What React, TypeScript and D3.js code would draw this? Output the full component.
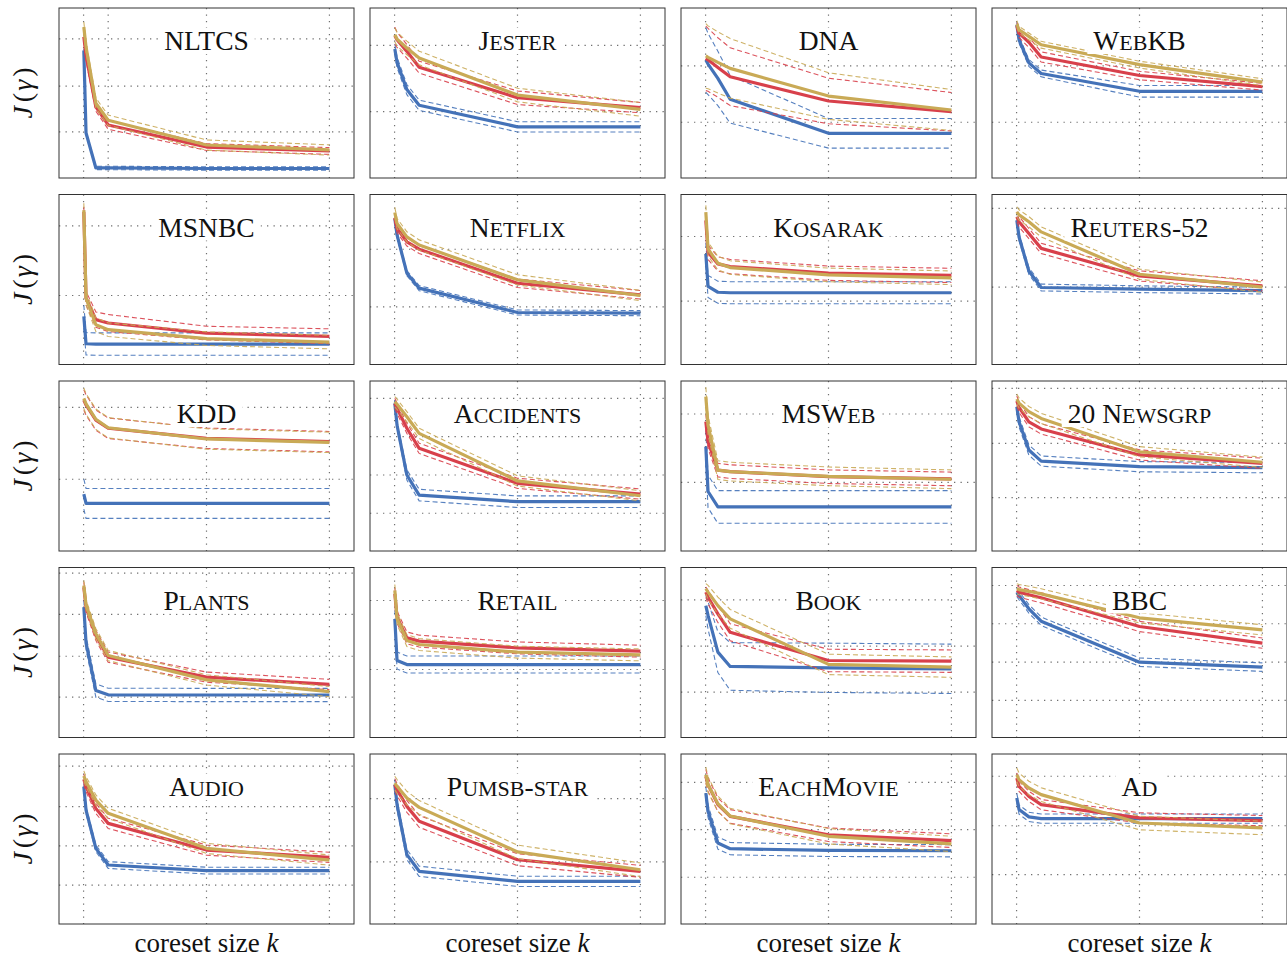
import React, { useEffect, useRef } from 'react';
import * as d3 from 'd3';

// coreset sizes at which J(gamma) was measured
const K = [1, 10, 50, 100, 500, 1000];
const X_TICKS = [0, 500, 1000];
const NLTCS_X_TICKS = [0, 100, 500, 1000];

const DATASETS = [
  'NLTCS', 'Jester', 'DNA', 'WebKB',
  'MSNBC', 'Netflix', 'Kosarak', 'Reuters-52',
  'KDD', 'Accidents', 'MSWeb', '20 Newsgrp',
  'Plants', 'Retail', 'Book', 'BBC',
  'Audio', 'Pumsb-star', 'EachMovie', 'Ad',
];

// horizontal grid positions (relative J units, 0..100 per panel)
const Y_GRID = [
  [81.8, 54.1, 27.1], [78, 39], [66, 32.8], [66, 32.8],
  [81.6, 40.6], [67.8, 33.9], [75.3, 37.3], [91.8, 45.5],
  [84.5, 42.2], [89.8, 67.3, 44.7, 22.2], [80.6, 40.4], [95.7, 63.3, 31.4],
  [96.7, 72.4, 47.8, 23.7], [80.6, 40], [81, 53.7, 26.7], [89.4, 66.9, 44.3, 21.8],
  [92.9, 69, 45.9, 22.9], [73.7, 36.5], [83.3, 55.5, 27.5], [86.9, 57.8, 29],
];

const BLUE = [
  [75, 26.5, 5.9, 5.9, 5.6, 5.6],
  [75.9, 68, 52, 42.8, 30.1, 30.1],
  [69.4, 67, 58.6, 46.3, 26.3, 26.3],
  [90.1, 81.3, 67.7, 61.5, 51, 51],
  [28.3, 12.2, 12, 12, 12, 12],
  [85.9, 76.2, 53.7, 44.9, 30.6, 30.2],
  [65.1, 45.9, 42.5, 42.2, 42.2, 42.2],
  [84.9, 75, 55, 45.3, 44.3, 43.5],
  [33.5, 28, 28, 28, 28, 28],
  [86.9, 74, 44.7, 32.9, 29, 29],
  [61.4, 35, 25.9, 25.9, 25.9, 25.9],
  [84.9, 76, 59.4, 52.9, 49.6, 49],
  [76.7, 55.7, 27.6, 25.1, 25, 25],
  [69.8, 45.3, 42.9, 42.9, 42.9, 42.9],
  [77.6, 71.8, 50.2, 41.8, 41, 40.4],
  [85.5, 83.5, 75.7, 68.4, 44.3, 41.4],
  [80.8, 67, 44.5, 34.7, 31.4, 31.4],
  [82, 70.2, 40.8, 31, 25.1, 25.1],
  [77, 66.3, 47.6, 44.3, 43.3, 43.1],
  [74.1, 67.3, 63, 62, 62, 62],
];
const BLUE_SD: (number | number[])[] = [
  1, 3, [19, 18, 16, 14, 8.7, 8.7], [1.5, 2, 2, 2, 3.4, 3.4],
  6.6, 1.5, 6.5, 2,
  8.8, [2, 2, 3, 3.4, 3.4, 3.4], 9.6, 3,
  3.9, 5, [6, 8, 12, 14, 14.5, 14.5], 2.5,
  2, 3, 3.6, 2.7,
];

const RED = [
  [83, 72, 41.8, 31.2, 18.2, 15.9],
  [83.7, 81.3, 74.5, 65.2, 47.2, 41.4],
  [70.4, 69.5, 65, 59.6, 45.3, 39],
  [89.5, 85.2, 79.8, 71.2, 60.3, 53.7],
  [89.8, 39, 26.4, 24.4, 18.5, 16.6],
  [86.3, 80, 72.2, 67.8, 47.8, 41],
  [84.7, 66, 59.2, 57.6, 53.7, 52.4],
  [86.9, 84, 77, 68.3, 52.1, 46.3],
  [88.8, 85.9, 77, 72.2, 66.3, 64.3],
  [86.9, 83.9, 72.2, 60.4, 39.8, 33.5],
  [76.1, 64.3, 47.6, 46.7, 43.7, 42.4],
  [88.2, 84.5, 76, 71.8, 56.5, 51.6],
  [88.4, 76.7, 60, 47.3, 35.5, 31.2],
  [84.5, 70.8, 58.6, 56.7, 52.7, 50.8],
  [85.5, 82.5, 72.7, 61.9, 45.3, 44.9],
  [86.5, 85.5, 84, 82.2, 65.3, 55.5],
  [85.1, 80.8, 68, 59.2, 43.5, 39.2],
  [82, 79, 69.2, 60.4, 37.8, 31],
  [86.9, 82, 70.2, 63.3, 52.5, 49],
  [85.9, 81, 75.1, 70.2, 62.4, 60.8],
];
const RED_SD: (number | number[])[] = [
  [2, 3, 2.5, 2.5, 2, 2], [5, 4.5, 4, 3.5, 4, 3], [19, 18.5, 17.5, 17, 13.4, 11.3], [2, 2.5, 3, 3, 2.5, 2],
  [3, 4, 4.5, 5, 4, 4.4], 2.5, 4.2, 3,
  6, 3, 4, 3,
  3, 3.5, [3, 4, 5, 5, 6.6, 6.6], 3,
  3, 3.5, 4, 3,
];

const GOLD = [
  [88.8, 77, 44, 34, 19.4, 16.5],
  [84.2, 81.7, 76.5, 70.6, 48.8, 40.4],
  [71.8, 71, 68, 64.5, 48.2, 40],
  [90.5, 87.2, 83.3, 78.4, 66.7, 56.4],
  [90.8, 39, 23.4, 20.5, 15.2, 13.2],
  [89.4, 82.9, 75.1, 70.3, 49.8, 40.6],
  [89.6, 68, 59.6, 57, 52.7, 51],
  [89.8, 88, 84, 78, 53.1, 45.5],
  [89.8, 86.5, 77.5, 72.5, 65.9, 63.9],
  [87.8, 86.3, 79, 69.2, 41.2, 32.5],
  [90.8, 74.1, 47.6, 46.7, 43.9, 42.2],
  [89.4, 87, 82, 78, 58.4, 52.2],
  [89.4, 78, 61, 48.2, 33.9, 27],
  [86.5, 70, 57, 54.7, 50.2, 48.6],
  [87.5, 85.5, 77.6, 69.8, 43, 41.4],
  [87.5, 87, 86, 84.5, 70.4, 63.3],
  [87.1, 83.7, 72.9, 65.1, 44.5, 37.6],
  [82.9, 81, 74.1, 68.6, 42.4, 31.9],
  [87.8, 82, 70.8, 63.5, 51.6, 47.1],
  [87.8, 84.8, 80, 76.1, 59.4, 56.5],
];
const GOLD_SD: (number | number[])[] = [
  3, 4, [19, 18.5, 18, 17.5, 13.7, 12], 2,
  4, 3, 4, 3,
  6, 3, 5.5, 3,
  3, 3.5, [3, 4, 5, 5.5, 6, 6], 3,
  3, 4, 4.5, 4,
];

const SERIES = [
  { mean: BLUE, sd: BLUE_SD, color: '#4472b8' },
  { mean: RED, sd: RED_SD, color: '#d8404b' },
  { mean: GOLD, sd: GOLD_SD, color: '#c9aa56' },
];

const W = 1287;
const H = 958;
const PANEL_W = 295;
const PANEL_H = 170;
const FONT = '"Liberation Serif", "Times New Roman", "DejaVu Serif", serif';
const TITLE_SIZE = 27.5;

// split a name into runs of capitals and (small-cap) lowercase
function smallCapRuns(name: string) {
  const runs: { text: string; small: boolean }[] = [];
  for (const ch of name) {
    const small = ch !== ch.toUpperCase();
    const last = runs[runs.length - 1];
    if (last && last.small === small) last.text += ch;
    else runs.push({ text: ch, small });
  }
  return runs;
}

export default function App() {
  const ref = useRef<SVGSVGElement | null>(null);

  useEffect(() => {
    const svg = d3.select(ref.current);
    svg.selectAll('*').remove();
    const defs = svg.append('defs');

    DATASETS.forEach((name, i) => {
      const col = i % 4;
      const row = Math.floor(i / 4);
      const left = 59 + col * 311;
      const top = 8 + row * 186.5;
      const x = d3.scaleLinear().domain([-100, 1100]).range([left, left + PANEL_W]);
      const y = d3.scaleLinear().domain([0, 100]).range([top + PANEL_H, top]);

      defs.append('clipPath').attr('id', `clip${i}`)
        .append('rect')
        .attr('x', left).attr('y', top).attr('width', PANEL_W).attr('height', PANEL_H);

      const g = svg.append('g');

      // dotted grid
      const grid = g.append('g')
        .attr('stroke', '#6f6f6f')
        .attr('stroke-width', 1.2)
        .attr('stroke-dasharray', '1.3 5.2');
      grid.selectAll('line.h').data(Y_GRID[i]).join('line')
        .attr('class', 'h')
        .attr('x1', left).attr('x2', left + PANEL_W)
        .attr('y1', (d) => y(d)).attr('y2', (d) => y(d));
      grid.selectAll('line.v').data(i === 0 ? NLTCS_X_TICKS : X_TICKS).join('line')
        .attr('class', 'v')
        .attr('y1', top).attr('y2', top + PANEL_H)
        .attr('x1', (d) => x(d)).attr('x2', (d) => x(d));

      const plot = g.append('g').attr('clip-path', `url(#clip${i})`);
      const line = d3.line<number>().x((_, j) => x(K[j])).y((d) => y(d));

      SERIES.forEach((s) => {
        const mean = s.mean[i];
        const sd = s.sd[i];
        const spread = K.map((_, j) => (Array.isArray(sd) ? sd[j] : sd));
        [1, -1].forEach((sign) => {
          plot.append('path')
            .attr('d', line(mean.map((m, j) => m + sign * spread[j])))
            .attr('fill', 'none')
            .attr('stroke', s.color)
            .attr('stroke-width', 1.1)
            .attr('stroke-dasharray', '5 3')
            .attr('opacity', 0.9);
        });
        plot.append('path')
          .attr('d', line(mean))
          .attr('fill', 'none')
          .attr('stroke', s.color)
          .attr('stroke-width', 3.2)
          .attr('stroke-linejoin', 'round');
      });

      // title (hand-made small caps) with white box behind it
      const baseline = top + 42;
      const t = g.append('text')
        .attr('x', left + PANEL_W / 2)
        .attr('y', baseline)
        .attr('text-anchor', 'middle')
        .style('font-family', FONT)
        .style('font-size', `${TITLE_SIZE}px`)
        .attr('fill', '#111');
      smallCapRuns(name).forEach((r) => {
        t.append('tspan')
          .style('font-size', r.small ? `${TITLE_SIZE * 0.8}px` : `${TITLE_SIZE}px`)
          .text(r.text.toUpperCase());
      });
      const bb = (t.node() as SVGTextElement).getBBox();
      g.insert('rect', () => t.node() as SVGTextElement)
        .attr('x', bb.x - 6)
        .attr('y', baseline - 22)
        .attr('width', bb.width + 12)
        .attr('height', 26)
        .attr('fill', '#fff');

      g.append('rect')
        .attr('x', left).attr('y', top)
        .attr('width', PANEL_W).attr('height', PANEL_H)
        .attr('fill', 'none')
        .attr('stroke', '#333')
        .attr('stroke-width', 1);
    });

    // y labels
    for (let row = 0; row < 5; row++) {
      const cy = 8 + row * 186.5 + PANEL_H / 2;
      const t = svg.append('text')
        .attr('transform', `translate(32, ${cy}) rotate(-90)`)
        .attr('text-anchor', 'middle')
        .style('font-family', FONT)
        .style('font-size', '28px')
        .attr('fill', '#111');
      t.append('tspan').style('font-style', 'italic').text('J');
      t.append('tspan').attr('dx', 4).text('(');
      t.append('tspan').style('font-style', 'italic').attr('dx', 2).text('γ');
      t.append('tspan').attr('dx', 3).text(')');
    }

    // x labels
    for (let col = 0; col < 4; col++) {
      const t = svg.append('text')
        .attr('x', 59 + col * 311 + PANEL_W / 2)
        .attr('y', 952)
        .attr('text-anchor', 'middle')
        .style('font-family', FONT)
        .style('font-size', '27px')
        .attr('fill', '#111');
      t.append('tspan').text('coreset size ');
      t.append('tspan').style('font-style', 'italic').text('k');
    }
  }, []);

  return (
    <svg
      ref={ref}
      width={W}
      height={H}
      style={{ position: 'absolute', left: 0, top: 0, display: 'block', background: '#fff' }}
    />
  );
}
